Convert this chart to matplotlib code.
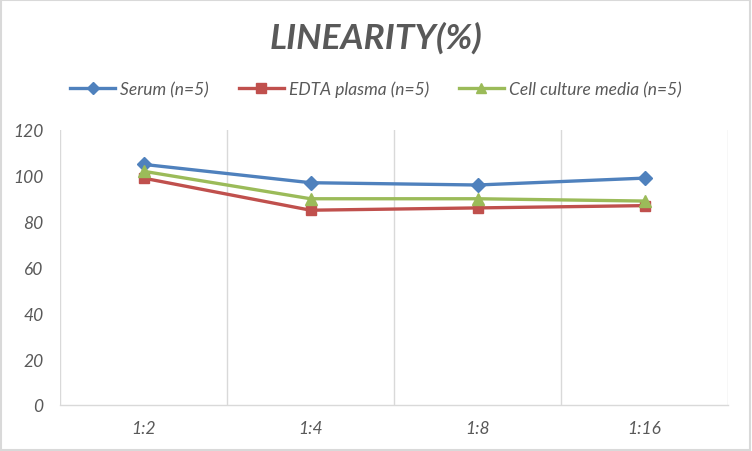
import matplotlib
matplotlib.use("Agg")
import matplotlib.pyplot as plt
from matplotlib.patches import Rectangle

categories = ["1:2", "1:4", "1:8", "1:16"]
serum = [105, 97, 96, 99]
edta = [99, 85, 86, 87]
cell = [102, 90, 90, 89]
series_names = ["Serum (n=5)", "EDTA plasma (n=5)", "Cell culture media (n=5)"]
yticks = [0, 20, 40, 60, 80, 100, 120]

plt.rcParams['font.family'] = ['Lato', 'DejaVu Sans']
txt = '#595959'

fig = plt.figure(figsize=(7.52, 4.52), dpi=100)
ax = fig.add_axes([60/752, 46/452, 668/752, 275/452])

x = list(range(len(categories)))
ax.plot(x, serum, color='#4F81BD', lw=2.4, marker='D', ms=7, label=series_names[0], zorder=3)
ax.plot(x, edta, color='#C0504D', lw=2.4, marker='s', ms=7.5, label=series_names[1], zorder=3)
ax.plot(x, cell, color='#9BBB59', lw=2.4, marker='^', ms=8, label=series_names[2], zorder=4)

ax.set_xlim(-0.5, len(categories) - 0.5)
ax.set_ylim(0, 120)
ax.set_yticks(yticks)
ax.set_yticklabels([str(v) for v in yticks], fontsize=12.5, style='italic', color=txt)
ax.set_xticks(x)
ax.set_xticklabels(categories, fontsize=12.5, style='italic', color=txt)
ax.tick_params(axis='y', length=0, pad=12)
ax.tick_params(axis='x', length=0, pad=11)

for b in [i - 0.5 for i in range(len(categories) + 1)]:
    ax.axvline(b, color='#d9d9d9', lw=1, zorder=1)
for s in ['top', 'right', 'left']:
    ax.spines[s].set_visible(False)
ax.spines['bottom'].set_color('#d9d9d9')
ax.spines['bottom'].set_linewidth(1)

fig.text(0.5, 1 - 38/452, "LINEARITY(%)", ha='center', va='center', fontsize=25.5,
         fontweight='bold', style='italic', color=txt)

leg = fig.legend(loc='center', bbox_to_anchor=(0.5, 1 - 90/452), ncol=3, frameon=False,
                 prop={'size': 12.5, 'style': 'italic'}, handlelength=2.6, columnspacing=1.7,
                 handletextpad=0.3, labelcolor=txt, markerscale=0.9)

fig.patches.append(Rectangle((0.001, 0.002), 0.996, 0.995, transform=fig.transFigure,
                             fill=False, edgecolor='#d9d9d9', lw=1.5))

fig.savefig("out.png", dpi=100, facecolor='white')
